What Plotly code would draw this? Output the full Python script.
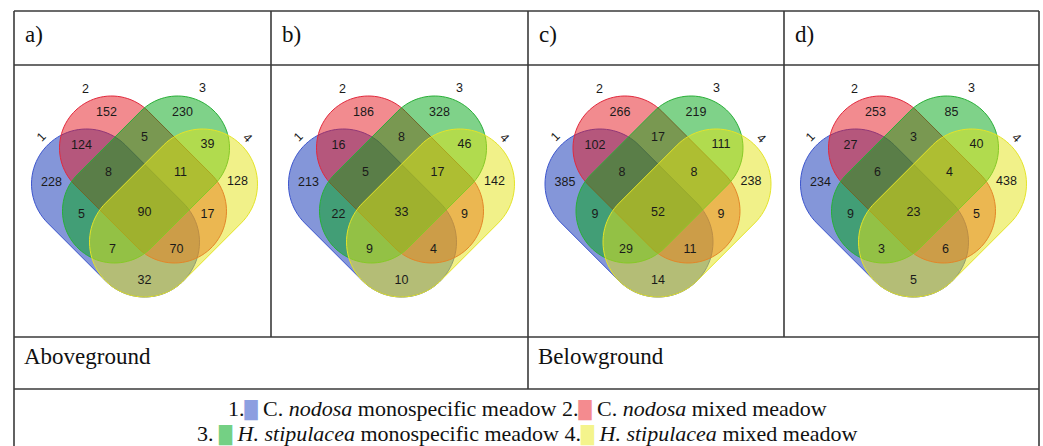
import numpy as np
import plotly.graph_objects as go

# ---------------- data ----------------
panel_tags = ["a)", "b)", "c)", "d)"]
region_keys = ["1", "2", "3", "4", "12", "23", "34", "123", "234",
               "13", "1234", "24", "134", "124", "14"]
counts_a = [228, 152, 230, 128, 124, 5, 39, 8, 11, 5, 90, 17, 7, 70, 32]
counts_b = [213, 186, 328, 142, 16, 8, 46, 5, 17, 22, 33, 9, 9, 4, 10]
counts_c = [385, 266, 219, 238, 102, 17, 111, 8, 8, 9, 52, 9, 29, 11, 14]
counts_d = [234, 253, 85, 438, 27, 3, 40, 6, 4, 9, 23, 5, 3, 6, 5]
set_names = ["1", "2", "3", "4"]
row_labels = ["Aboveground", "Belowground"]
SQ = "<span style='font-family:DejaVu Sans;font-size:17px;color:{c}'>█</span>"
legend_line1 = ("1." + SQ.format(c="#8c9fe0") + " C. <i>nodosa</i> monospecific meadow "
                "2." + SQ.format(c="#f48b8f") + " C. <i>nodosa</i> mixed meadow")
legend_line2 = ("3. " + SQ.format(c="#74d084") + " <i>H. stipulacea</i> monospecific meadow "
                "4." + SQ.format(c="#f4f48c") + " <i>H. stipulacea</i> mixed meadow")

all_counts = [counts_a, counts_b, counts_c, counts_d]

# ---------------- layout geometry (pixels) ----------------
W, H = 1043, 446
col_x = [14, 271, 528, 784, 1039]
row_y = [11, 65, 337, 389]
grid_color = "#3a3a3a"

region_pos = {
    "1": (-93, 183), "2": (-38, 113), "3": (38, 113), "4": (93, 182),
    "12": (-63, 146), "23": (0, 138), "34": (63, 145),
    "123": (-36, 173), "234": (36, 173),
    "13": (-63, 215), "1234": (0, 213), "24": (63, 215),
    "134": (-32, 250), "124": (32, 250), "14": (0, 281),
}
set_label_pos = [(-103, 137, -45), (-59, 89, 0), (58, 88, 0), (103, 138, 45)]

R_long, R_short = 55, 52
capsules = [
    ((-58, 184), (0, 242), R_long),    # set 1 (blue)
    ((-33, 148), (30, 211), R_short),  # set 2 (red)
    ((33, 148), (-30, 211), R_short),  # set 3 (green)
    ((58, 184), (0, 242), R_long),     # set 4 (yellow)
]
fills = ["rgba(10,45,180,0.5)", "rgba(229,23,31,0.5)",
         "rgba(0,165,20,0.5)", "rgba(228,228,20,0.5)"]
edges = ["rgb(60,85,205)", "rgb(225,40,60)", "rgb(40,175,55)", "rgb(228,228,40)"]


def capsule_path(cx, c1, c2, r, n=48):
    p1 = np.array([cx + c1[0], c1[1]], float)
    p2 = np.array([cx + c2[0], c2[1]], float)
    d = p2 - p1
    ang = np.arctan2(d[1], d[0])
    t2 = np.linspace(ang - np.pi / 2, ang + np.pi / 2, n)
    t1 = np.linspace(ang + np.pi / 2, ang + 3 * np.pi / 2, n)
    pts = np.vstack([
        np.column_stack([p2[0] + r * np.cos(t2), p2[1] + r * np.sin(t2)]),
        np.column_stack([p1[0] + r * np.cos(t1), p1[1] + r * np.sin(t1)]),
    ])
    return "M " + " L ".join(f"{x:.2f},{y:.2f}" for x, y in pts) + " Z"


fig = go.Figure()
shapes = []
annotations = []
num_font = dict(family="Liberation Sans, Arial", size=12.5, color="#1a1a1a")
serif = dict(family="Liberation Serif, serif", size=23, color="#111")
legend_font = dict(family="Liberation Serif, serif", size=22, color="#111")

panel_centres = [(col_x[i] + col_x[i + 1]) / 2 + 2 for i in range(4)]

for i, cx in enumerate(panel_centres):
    for k, (c1, c2, r) in enumerate(capsules):
        shapes.append(dict(type="path", path=capsule_path(cx, c1, c2, r),
                           xref="x", yref="y", fillcolor=fills[k],
                           line=dict(color=edges[k], width=1), layer="below"))
    xs = [cx + region_pos[key][0] for key in region_keys]
    ys = [region_pos[key][1] for key in region_keys]
    fig.add_trace(go.Scatter(x=xs, y=ys, mode="text",
                             text=[str(v) for v in all_counts[i]],
                             textfont=num_font, hoverinfo="skip", showlegend=False))
    for name, (dx, y, rot) in zip(set_names, set_label_pos):
        annotations.append(dict(x=cx + dx, y=y, xref="x", yref="y", text=name,
                                showarrow=False, textangle=rot, font=num_font))
    annotations.append(dict(x=col_x[i] + 9, y=34, xref="x", yref="y", text=panel_tags[i],
                            showarrow=False, xanchor="left", yanchor="middle", font=serif))

for j, lab in enumerate(row_labels):
    annotations.append(dict(x=col_x[2 * j] + 8, y=356, xref="x", yref="y", text=lab,
                            showarrow=False, xanchor="left", yanchor="middle", font=serif))

mid = (col_x[0] + col_x[-1]) / 2 + 1
for y, line in [(408, legend_line1), (433, legend_line2)]:
    annotations.append(dict(x=mid, y=y, xref="x", yref="y", text=line,
                            showarrow=False, xanchor="center", yanchor="middle",
                            font=legend_font))


def hline(y, x0, x1):
    return dict(type="line", x0=x0, x1=x1, y0=y, y1=y, xref="x", yref="y",
                line=dict(color=grid_color, width=1.6), layer="above")


def vline(x, y0, y1):
    return dict(type="line", x0=x, x1=x, y0=y0, y1=y1, xref="x", yref="y",
                line=dict(color=grid_color, width=1.6), layer="above")


for y in row_y:
    shapes.append(hline(y, col_x[0], col_x[-1]))
shapes.append(vline(col_x[0], row_y[0], H + 2))
shapes.append(vline(col_x[-1], row_y[0], H + 2))
shapes.append(vline(col_x[1], row_y[0], row_y[2]))
shapes.append(vline(col_x[3], row_y[0], row_y[2]))
shapes.append(vline(col_x[2], row_y[0], row_y[3]))

fig.update_layout(
    width=W, height=H, margin=dict(l=0, r=0, t=0, b=0),
    paper_bgcolor="white", plot_bgcolor="white",
    shapes=shapes, annotations=annotations, showlegend=False,
    xaxis=dict(range=[0, W], visible=False, fixedrange=True),
    yaxis=dict(range=[H, 0], visible=False, fixedrange=True),
)
fig.write_html("out.html", config={"displayModeBar": False, "staticPlot": True},
               post_script="document.body.style.margin='0';document.body.style.overflow='hidden';")
